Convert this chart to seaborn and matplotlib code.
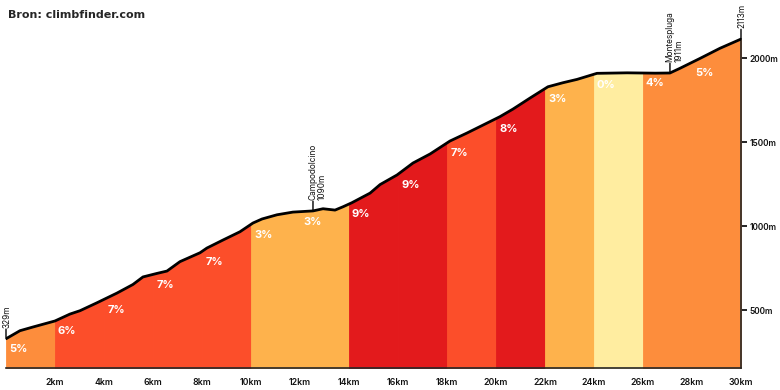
import numpy as np
import matplotlib
matplotlib.use("Agg")
import matplotlib.pyplot as plt
import seaborn as sns

# profile (km, m)
dist_km = [0, 0.57, 1.10, 2.0, 2.61, 3.02, 3.71, 4.53, 5.18, 5.59, 6.16, 6.57,
           7.10, 7.92, 8.20, 8.86, 9.55, 10.08, 10.45, 11.06, 11.71, 12.53,
           12.94, 13.43, 13.76, 14.12, 14.86, 15.27, 15.96, 16.61, 17.31,
           18.12, 18.82, 19.47, 20.16, 20.69, 21.39, 22.12, 22.73, 23.31,
           24.12, 25.35, 26.5, 27.1, 27.51, 28.33, 29.14, 30]
elev_m = [329, 377, 399, 435, 476, 496, 543, 601, 652, 697, 718, 732,
          788, 841, 869, 917, 966, 1018, 1042, 1067, 1083, 1090,
          1103, 1095, 1115, 1139, 1196, 1247, 1304, 1375, 1429,
          1506, 1554, 1601, 1651, 1696, 1762, 1829, 1853, 1873,
          1909, 1912, 1910, 1911, 1939, 1998, 2058, 2113]

# 2 km segments and their gradient labels
seg_start = [0, 2, 4, 6, 8, 10, 12, 14, 16, 18, 20, 22, 24, 26, 28]
seg_grade = [5, 6, 7, 7, 7, 3, 3, 9, 9, 7, 8, 3, 0, 4, 5]

grade_colors = {0: "#FFEDA0", 3: "#FEB24C", 4: "#FD8D3C", 5: "#FD8D3C",
                6: "#FC4E2A", 7: "#FC4E2A", 8: "#E31A1C", 9: "#E31A1C"}

# named points
poi_km = [0, 12.53, 27.1, 30]
poi_label = ["329m", "Campodolcino\n1090m", "Montespluga\n1911m", "2113m"]

x_ticks = list(range(2, 31, 2))
y_ticks = [500, 1000, 1500, 2000]

sns.set_style("white")
plt.rcParams["font.family"] = ["Inter", "DejaVu Sans"]

fig = plt.figure(figsize=(7.8, 3.9), dpi=100)
ax = fig.add_axes([6 / 780, 22 / 390, 735 / 780, 358 / 390])

y_bottom = 155
dist = np.array(dist_km, dtype=float)
elev = np.array(elev_m, dtype=float)

# coloured bands under the profile
for i, start in enumerate(seg_start):
    end = start + 2
    inner = (dist > start) & (dist < end)
    xs = np.concatenate([[start], dist[inner], [end]])
    ys = np.interp(xs, dist, elev)
    col = grade_colors[seg_grade[i]]
    ax.fill_between(xs, y_bottom, ys, facecolor=col, edgecolor=col,
                    linewidth=0.6, zorder=1)
    y0 = np.interp(start, dist, elev)
    ax.annotate(f"{seg_grade[i]}%", xy=(start + 0.5, y0), xytext=(0, -7.5),
                textcoords="offset points", ha="center", va="center",
                color="white", fontsize=8, fontweight="bold", zorder=4)

sns.lineplot(x=dist, y=elev, ax=ax, color="black", linewidth=2,
             solid_capstyle="round", zorder=3)

# named points with small marker ticks
for km, lab in zip(poi_km, poi_label):
    h = np.interp(km, dist, elev)
    ax.annotate("", xy=(km, h), xytext=(0, 7), textcoords="offset points",
                arrowprops=dict(arrowstyle="-", lw=1, color="black",
                                shrinkA=0, shrinkB=0), zorder=5)
    two_lines = "\n" in lab
    ax.annotate(lab, xy=(km, h), xytext=(-3.2 if two_lines else 0.5, 8),
                textcoords="offset points", rotation=90,
                ha="left" if two_lines else "center", va="bottom",
                multialignment="left", linespacing=1.0,
                fontsize=6, color="#111111", zorder=5)

ax.set_xlim(0, 30)
ax.set_ylim(y_bottom, 2286)
ax.set_xticks(x_ticks)
ax.set_xticklabels([f"{v}km" for v in x_ticks])
ax.set_yticks(y_ticks)
ax.set_yticklabels([f"{v}m" for v in y_ticks])
ax.yaxis.tick_right()
ax.tick_params(axis="x", direction="out", length=5, width=1.2, pad=2,
               labelsize=6.3, colors="black", labelcolor="#111111")
ax.tick_params(axis="y", direction="out", length=4.5, width=1.2, pad=1.5,
               labelsize=6, colors="black", labelcolor="#111111")
for lbl in ax.get_xticklabels() + ax.get_yticklabels():
    lbl.set_fontweight("semibold")

ax.spines["top"].set_visible(False)
ax.spines["left"].set_visible(False)
ax.spines["bottom"].set_linewidth(1.2)
ax.spines["right"].set_linewidth(1.2)
ax.spines["right"].set_bounds(y_bottom, elev[-1])
ax.set_xlabel("")
ax.set_ylabel("")
ax.grid(False)
ax.set_facecolor("none")

fig.text(8 / 780, 1 - 15 / 390, "Bron: climbfinder.com", fontsize=8,
         fontweight="bold", family="DejaVu Sans", va="center", ha="left")

fig.savefig("out.png", dpi=100)
